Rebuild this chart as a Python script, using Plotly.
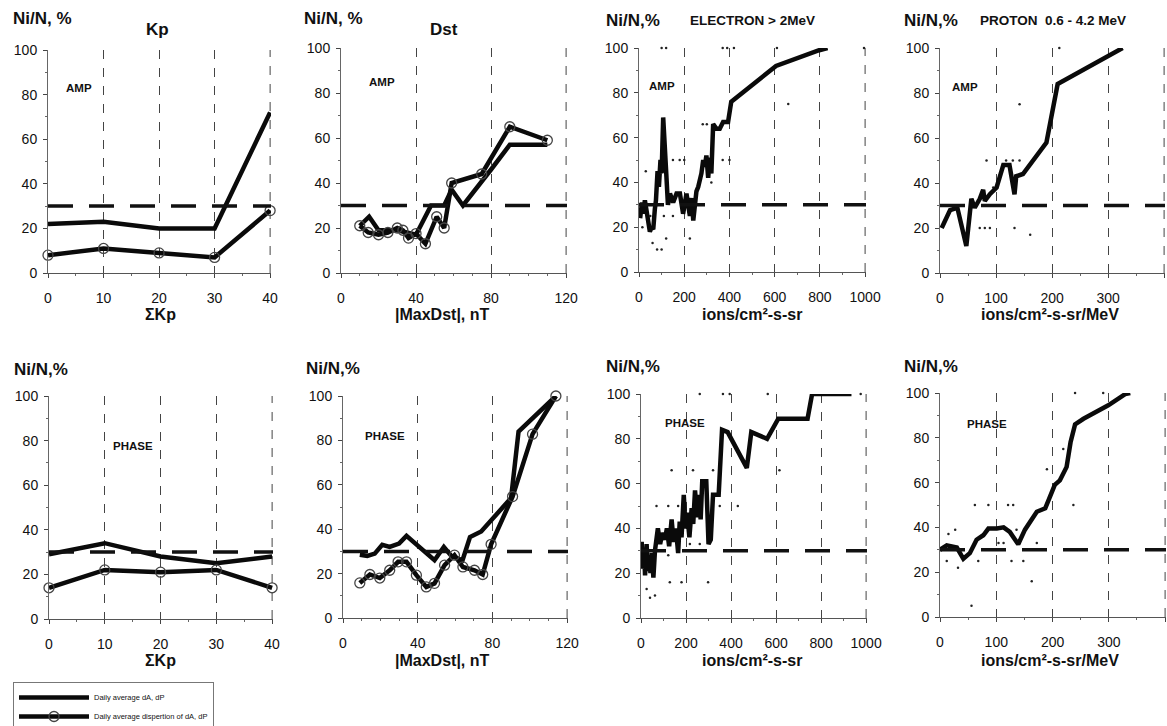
import plotly.graph_objects as go

# ---------------- data ----------------
KP_X = [0, 10, 20, 30, 40]
KP_AMP_AVG = [22, 23, 20, 20, 72]
KP_AMP_DISP = [8, 11, 9, 7, 28]
KP_PHASE_AVG = [29, 34, 28, 25, 28]
KP_PHASE_DISP = [14, 22, 21, 22, 14]

DST_AMP_AVG_X = [10, 15, 20, 25, 30, 35, 40, 48, 55, 59, 65, 80, 90, 110]
DST_AMP_AVG_Y = [21, 25, 19, 19, 19, 18, 17, 30, 30, 37, 30, 46, 57, 57]
DST_AMP_DISP_X = [10, 14.5, 20, 25, 30, 33, 36, 40, 45, 51, 55, 59, 75, 90, 110]
DST_AMP_DISP_Y = [21, 18, 17, 18, 20, 19, 15.5, 17.5, 13, 25, 20, 40, 44, 65, 59]

DST_PH_AVG_X = [9, 13, 17, 21, 25, 30, 34, 42, 49, 54, 58, 64, 68, 74, 90, 94, 114]
DST_PH_AVG_Y = [28.5, 28, 29, 33, 32, 33.5, 37, 31, 26, 32, 28, 26, 36.5, 39, 54, 84, 100]
DST_PH_DISP_X = [9, 14.4, 19.7, 25, 29.5, 34, 39.3, 44.6, 49, 54.4, 59.7, 64.2, 70.4, 74.8, 79.3, 90.8, 101.5, 114]
DST_PH_DISP_Y = [15.8, 19.6, 18, 21.5, 25.3, 25.3, 19.3, 14, 15.6, 23.8, 28.3, 23, 21.5, 19.6, 33.2, 54.7, 82.8, 100]

ELEC_AMP_X = [5, 13, 19, 26, 34, 42, 48, 56, 63, 70, 75, 82, 88, 95, 100, 107, 113, 120, 128, 137,
              151, 166, 181, 195, 210, 225, 233, 240, 254, 262, 276, 284, 291, 298, 306, 313, 320,
              328, 342, 357, 372, 394, 408, 606, 797, 834]
ELEC_AMP_Y = [24, 31, 26, 32, 27, 22, 18, 20, 19, 28, 32, 45, 38, 50, 44, 69, 60, 45, 30, 35,
              31, 35, 35, 26, 35, 25, 33, 23, 36, 38, 44, 50, 47, 52, 42, 51, 44,
              66, 64, 64, 67, 67, 76, 92, 99, 100]
ELEC_AMP_DOTS_X = [100, 120, 370, 390, 420, 610, 995, 282, 300, 150, 180, 200, 370, 400, 30, 320,
                   15, 60, 80, 100, 120, 225, 50, 110, 150, 235, 660]
ELEC_AMP_DOTS_Y = [100, 100, 100, 100, 100, 100, 100, 66, 66, 50, 50, 50, 50, 50, 45, 40,
                   20, 13, 10, 10, 15, 15, 25, 25, 25, 25, 75]

ELEC_PH_X = [3, 8, 14, 18, 25, 30, 36, 42, 48, 55, 62, 68, 75, 85, 95, 106, 115, 125, 136, 145,
             155, 165, 172, 180, 190, 198, 205, 215, 225, 232, 240, 250, 258, 265, 272, 290, 300,
             310, 320, 345, 360, 385, 470, 490, 560, 610, 740, 760, 935]
ELEC_PH_Y = [34, 22, 30, 19, 33, 21, 28, 20, 29, 18, 30, 36, 40, 33, 38, 35, 40, 32, 44, 34,
             40, 29, 43, 36, 55, 40, 47, 36, 49, 42, 57, 45, 55, 44, 61, 61, 33,
             35, 55, 55, 84, 83, 67, 83, 80, 89, 89, 100, 100]
ELEC_PH_DOTS_X = [261, 364, 394, 563, 976, 136, 231, 320, 615, 69, 121, 165, 350, 430, 217, 261,
                  121, 128, 180, 298, 25, 40, 62]
ELEC_PH_DOTS_Y = [100, 100, 100, 100, 100, 66, 66, 66, 66, 50, 50, 50, 50, 50, 33, 33,
                  28, 16, 16, 16, 13, 9, 10]

PROT_AMP_X = [3, 18, 31, 44, 47, 56, 62, 71, 77, 80, 89, 101, 107, 113, 124, 133, 136, 148, 190, 210, 326]
PROT_AMP_Y = [20, 28, 29, 15, 12, 33, 29, 33, 37, 32, 35, 38, 44, 48, 48, 35, 43, 44, 58, 84, 100]
PROT_AMP_DOTS_X = [213, 142, 83, 118, 130, 142, 70, 95, 71, 80, 89, 133, 161]
PROT_AMP_DOTS_Y = [100, 75, 50, 50, 50, 50, 33, 38, 20, 20, 20, 20, 17]

PROT_PH_X = [0, 12, 30, 41.5, 53, 65, 77, 86, 101, 113, 124, 139, 151, 160, 172, 187, 204, 213, 225,
             232, 240, 255, 278, 299, 329, 338]
PROT_PH_Y = [30, 32, 31, 26, 28.5, 34.5, 36.5, 39.5, 39.5, 40, 38, 32.5, 39, 42.5, 47, 48.5, 59, 61, 67,
             78, 86, 88.5, 91.5, 94.5, 99.5, 100]
PROT_PH_DOTS_X = [240, 290, 219, 190, 237, 62, 86, 121, 130, 15, 27, 136, 104, 113, 172, 12, 32, 68,
                  127, 148, 163, 56]
PROT_PH_DOTS_Y = [100, 100, 75, 66, 50, 50, 50, 50, 50, 37, 39, 39, 33, 33, 33, 25, 22, 25,
                  25, 25, 16, 5]

THRESHOLD = 30
Y_TICKS = [0, 20, 40, 60, 80, 100]

# ---------------- layout helpers ----------------
W, H = 1167, 726
FONT = "Arial, Liberation Sans, sans-serif"
LEG_AVG = "Daily average dA, dP"
LEG_DISP = "Daily average dispertion of dA, dP"

panels = [
    dict(px=(48, 271), py=(273, 50), xmax=40, dtick=10, minor=5, label="AMP", lab_xy=(5.5, 83),
         avg=(KP_X, KP_AMP_AVG), disp=(KP_X, KP_AMP_DISP), dots=None),
    dict(px=(341, 567), py=(273, 48), xmax=120, dtick=40, minor=10, label="AMP", lab_xy=(22, 85),
         avg=(DST_AMP_AVG_X, DST_AMP_AVG_Y), disp=(DST_AMP_DISP_X, DST_AMP_DISP_Y), dots=None),
    dict(px=(639, 866), py=(272, 48), xmax=1000, dtick=200, minor=100, label="AMP", lab_xy=(100, 83),
         avg=(ELEC_AMP_X, ELEC_AMP_Y), disp=None, dots=(ELEC_AMP_DOTS_X, ELEC_AMP_DOTS_Y)),
    dict(px=(940, 1165), py=(273, 48), xmax=400, dtick=100, minor=50, label="AMP", lab_xy=(44, 82.5),
         avg=(PROT_AMP_X, PROT_AMP_Y), disp=None, dots=(PROT_AMP_DOTS_X, PROT_AMP_DOTS_Y)),
    dict(px=(49, 273), py=(619, 396), xmax=40, dtick=10, minor=5, label="PHASE", lab_xy=(15, 77.5),
         avg=(KP_X, KP_PHASE_AVG), disp=(KP_X, KP_PHASE_DISP), dots=None),
    dict(px=(343, 568), py=(618, 396), xmax=120, dtick=40, minor=10, label="PHASE", lab_xy=(22.5, 82),
         avg=(DST_PH_AVG_X, DST_PH_AVG_Y), disp=(DST_PH_DISP_X, DST_PH_DISP_Y), dots=None),
    dict(px=(641, 867), py=(618, 394), xmax=1000, dtick=200, minor=100, label="PHASE", lab_xy=(195, 87),
         avg=(ELEC_PH_X, ELEC_PH_Y), disp=None, dots=(ELEC_PH_DOTS_X, ELEC_PH_DOTS_Y)),
    dict(px=(940, 1166), py=(617, 393), xmax=400, dtick=100, minor=50, label="PHASE", lab_xy=(83, 86),
         avg=(PROT_PH_X, PROT_PH_Y), disp=None, dots=(PROT_PH_DOTS_X, PROT_PH_DOTS_Y)),
]

fig = go.Figure()
layout = dict(
    width=W, height=H, margin=dict(l=0, r=0, t=0, b=0, autoexpand=False),
    paper_bgcolor="white", plot_bgcolor="white",
    font=dict(family=FONT, color="#111", size=13),
    showlegend=True,
    legend=dict(x=13 / W, y=1 - 682 / H, xanchor="left", yanchor="top",
                bordercolor="#777", borderwidth=1, bgcolor="white",
                font=dict(size=7.5, family=FONT, color="#111"),
                itemwidth=70, tracegroupgap=0),
)
shapes = []
annotations = []

for i, p in enumerate(panels, start=1):
    xs = "" if i == 1 else str(i)
    xr, yr = f"x{xs}", f"y{xs}"
    x0, x1 = p["px"]
    yb, yt = p["py"]
    layout[f"xaxis{xs}"] = dict(
        domain=[x0 / W, x1 / W], anchor=yr, range=[0, p["xmax"] * 1.004],
        tick0=0, dtick=p["dtick"], ticks="outside", ticklen=4, tickcolor="#444",
        showline=True, linecolor="#555", linewidth=1,
        showgrid=True, gridcolor="#444", gridwidth=1, griddash="dash",
        zeroline=False, tickfont=dict(size=14, family=FONT, color="#111"),
        ticklabelstandoff=8,
        minor=dict(dtick=p["minor"], ticks="outside", ticklen=2, tickcolor="#666", showgrid=False),
        fixedrange=True,
    )
    layout[f"yaxis{xs}"] = dict(
        domain=[1 - yb / H, 1 - yt / H], anchor=xr, range=[0, 100],
        tickvals=Y_TICKS, ticks="outside", ticklen=4, tickcolor="#444",
        showline=True, linecolor="#666", linewidth=1,
        showgrid=False, zeroline=False, tickfont=dict(size=14, family=FONT, color="#111"),
        ticklabelstandoff=3,
        minor=dict(dtick=10, ticks="outside", ticklen=2, tickcolor="#666"),
        fixedrange=True,
    )
    # gridline at the right end of the axis (plotly drops the edge gridline)
    shapes.append(dict(type="line", xref=xr, yref=f"{yr} domain", x0=p["xmax"], x1=p["xmax"],
                       y0=0, y1=1, line=dict(color="#444", width=1, dash="dash"), layer="below"))
    # threshold line
    shapes.append(dict(type="line", xref=f"{xr} domain", yref=yr, x0=0, x1=1,
                       y0=THRESHOLD, y1=THRESHOLD,
                       line=dict(color="#111", width=3.5, dash="25px,16px"), layer="above"))
    # dots
    if p["dots"]:
        fig.add_trace(go.Scatter(x=p["dots"][0], y=p["dots"][1], mode="markers", xaxis=xr, yaxis=yr,
                                 marker=dict(size=2.5, color="#222"), showlegend=False,
                                 hoverinfo="skip", cliponaxis=False))
    # average line
    fig.add_trace(go.Scatter(x=p["avg"][0], y=p["avg"][1], mode="lines", xaxis=xr, yaxis=yr,
                             line=dict(color="#0a0a0a", width=4.5), name=LEG_AVG,
                             legendgroup="avg", showlegend=(i == 1), cliponaxis=False))
    if p["disp"]:
        fig.add_trace(go.Scatter(x=p["disp"][0], y=p["disp"][1], mode="lines+markers",
                                 xaxis=xr, yaxis=yr,
                                 line=dict(color="#0a0a0a", width=4.5),
                                 marker=dict(symbol="circle-open", size=10, color="#444",
                                             line=dict(width=1.3, color="#444")),
                                 name=LEG_DISP, legendgroup="disp", showlegend=(i == 1),
                                 cliponaxis=False))
    annotations.append(dict(xref=xr, yref=yr, x=p["lab_xy"][0], y=p["lab_xy"][1], text=p["label"],
                            showarrow=False, xanchor="center", yanchor="middle",
                            font=dict(size=11.5, family=FONT, color="#111", weight="bold")))


def ptext(x, y, text, size, anchor="left"):
    annotations.append(dict(xref="paper", yref="paper", x=x / W, y=1 - y / H, text=text,
                            showarrow=False, xanchor=anchor, yanchor="middle",
                            font=dict(size=size, family=FONT, color="#111", weight="bold")))


# y titles and panel headers
ptext(11, 19, "Ni/N, %", 17)
ptext(157, 29, "Kp", 17, "center")
ptext(302, 19, "Ni/N, %", 17)
ptext(444, 29, "Dst", 17, "center")
ptext(604, 20, "Ni/N,%", 17)
ptext(688, 20, "ELECTRON &gt; 2MeV", 13.5)
ptext(902, 20, "Ni/N,%", 17)
ptext(978, 20, "PROTON  0.6 - 4.2 MeV", 13.5)
ptext(12, 369, "Ni/N,%", 17)
ptext(304, 368, "Ni/N,%", 17)
ptext(604, 367, "Ni/N,%", 17)
ptext(902, 367, "Ni/N,%", 17)

# x-axis titles
for yy in (314, 660):
    ptext(160, yy, "ΣKp", 16, "center")
    ptext(442, yy, "|MaxDst|, nT", 16, "center")
    ptext(752, yy, "ions/cm²-s-sr", 16, "center")
    ptext(1050, yy, "ions/cm²-s-sr/MeV", 16, "center")

layout["shapes"] = shapes
layout["annotations"] = annotations
fig.update_layout(**layout)
fig.write_html("out.html")
